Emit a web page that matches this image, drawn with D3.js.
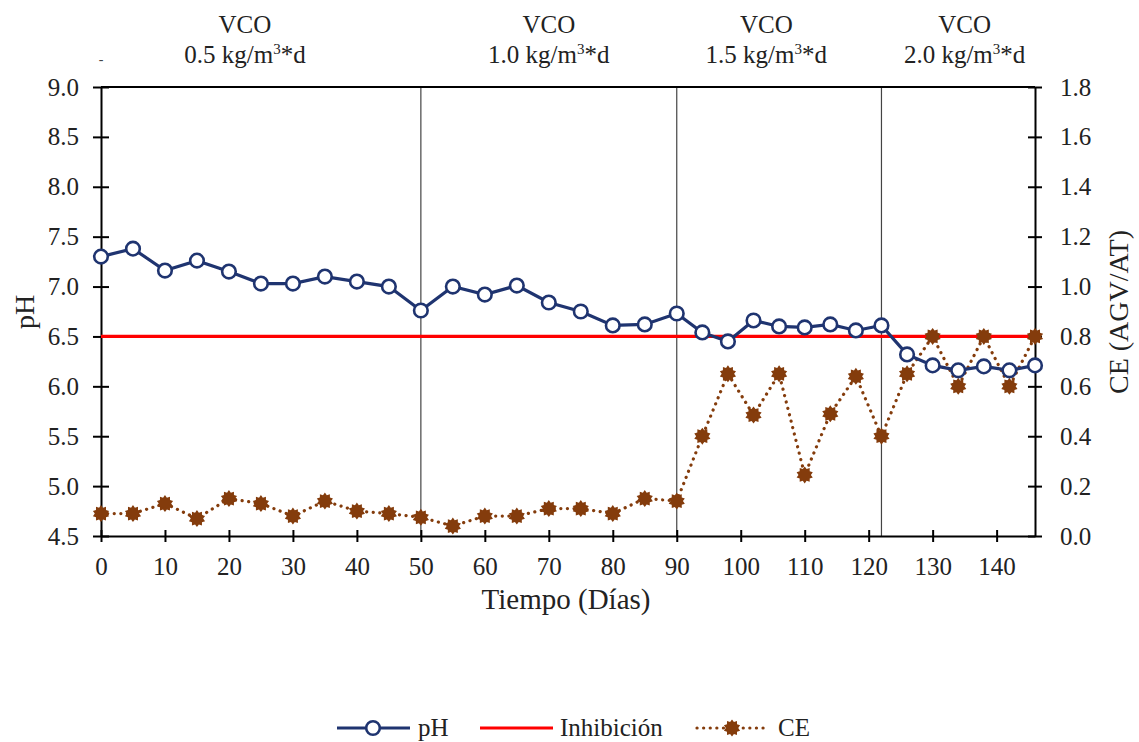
<!DOCTYPE html>
<html>
<head>
<meta charset="utf-8">
<script src="https://cdn.jsdelivr.net/npm/d3@7/dist/d3.min.js"></script>
<style>
  html, body { margin: 0; padding: 0; background: #fff; }
  svg { display: block; font-family: "Liberation Serif", "Times New Roman", serif; }
</style>
</head>
<body>
<svg id="chart" width="1139" height="742"></svg>
<script>
// Days of sampling
const dias = [0, 5, 10, 15, 20, 25, 30, 35, 40, 45, 50, 55, 60, 65, 70, 75, 80, 85, 90,
              94, 98, 102, 106, 110, 114, 118, 122, 126, 130, 134, 138, 142, 146];
// pH of the reactor
const ph = [7.30, 7.38, 7.16, 7.26, 7.15, 7.03, 7.03, 7.10, 7.05, 7.00, 6.76, 7.00, 6.92, 7.01, 6.84, 6.75, 6.61, 6.62, 6.73,
            6.54, 6.45, 6.66, 6.60, 6.59, 6.62, 6.56, 6.61, 6.32, 6.21, 6.16, 6.20, 6.16, 6.21];
// CE (AGV/AT) ratio
const ce = [0.09, 0.09, 0.13, 0.07, 0.15, 0.13, 0.08, 0.14, 0.10, 0.09, 0.075, 0.04, 0.08, 0.08, 0.11, 0.11, 0.09, 0.15, 0.14,
            0.40, 0.65, 0.485, 0.65, 0.245, 0.49, 0.64, 0.40, 0.65, 0.80, 0.60, 0.80, 0.60, 0.80];
// Inhibition threshold on pH
const inhibicion = 6.5;
// Organic loading phases: change days and labels
const cambiosFase = [50, 90, 122];
const fasesDia = [22.5, 70, 104, 135];
const fasesCarga = ["0.5", "1.0", "1.5", "2.0"];
// Tick labels
const phTicks = [4.5, 5.0, 5.5, 6.0, 6.5, 7.0, 7.5, 8.0, 8.5, 9.0];
const ceTicks = [0, 0.2, 0.4, 0.6, 0.8, 1.0, 1.2, 1.4, 1.6, 1.8];
const diaTicks = [0, 10, 20, 30, 40, 50, 60, 70, 80, 90, 100, 110, 120, 130, 140];

const svg = d3.select("#chart");
const L = 101, R = 1035, T = 87, B = 536;
const navy = "#1f3470", brown = "#843c0c", ink = "#222";
const serif = "Liberation Serif, Times New Roman, serif";

const x = d3.scaleLinear().domain([0, 146]).range([L, R]);
const yPh = d3.scaleLinear().domain([4.5, 9.0]).range([B, T]);
const yCe = d3.scaleLinear().domain([0, 1.8]).range([B, T]);

// Phase separators
svg.append("g").selectAll("line").data(cambiosFase).join("line")
  .attr("x1", d => x(d)).attr("x2", d => x(d))
  .attr("y1", T).attr("y2", B)
  .attr("stroke", "#444").attr("stroke-width", 1.2);

// Plot frame top
svg.append("line").attr("x1", L).attr("x2", R).attr("y1", T).attr("y2", T)
  .attr("stroke", "#000").attr("stroke-width", 2);

// Axes
function styleAxis(g, size) {
  g.select(".domain").attr("stroke", "#000").attr("stroke-width", 2);
  g.selectAll(".tick line").attr("stroke", "#000").attr("stroke-width", 2);
  g.selectAll(".tick text").attr("fill", ink).style("font-size", size + "px")
    .style("font-family", serif);
}

const gL = svg.append("g").attr("transform", `translate(${L},0)`)
  .call(d3.axisLeft(yPh).tickValues(phTicks).tickFormat(d3.format(".1f")).tickSizeOuter(0).tickPadding(16));
styleAxis(gL, 25);
gL.selectAll(".tick line").attr("x1", 8).attr("x2", -8);

const gR = svg.append("g").attr("transform", `translate(${R},0)`)
  .call(d3.axisRight(yCe).tickValues(ceTicks).tickFormat(d3.format(".1f")).tickSizeOuter(0).tickPadding(19));
styleAxis(gR, 25);
gR.selectAll(".tick line").attr("x1", -7).attr("x2", 7);

const gB = svg.append("g").attr("transform", `translate(0,${B})`)
  .call(d3.axisBottom(x).tickValues(diaTicks).tickFormat(d3.format("d")).tickSizeOuter(0).tickPadding(15));
styleAxis(gB, 25);
gB.selectAll(".tick line").attr("y1", -6).attr("y2", 6);

// Inhibition line
svg.append("line")
  .attr("x1", L).attr("x2", R)
  .attr("y1", yPh(inhibicion)).attr("y2", yPh(inhibicion))
  .attr("stroke", "#ff0000").attr("stroke-width", 3.2);

// Star (burst) marker path
function burst(r1, r2, n) {
  const pts = [];
  for (let i = 0; i < 2 * n; i++) {
    const r = i % 2 === 0 ? r1 : r2;
    const a = Math.PI * i / n - Math.PI / 2;
    pts.push([r * Math.cos(a), r * Math.sin(a)]);
  }
  return "M" + pts.map(p => p.join(",")).join("L") + "Z";
}
const starPath = burst(8.5, 6.2, 10);

// CE series (dotted)
const ceData = dias.map((d, i) => [d, ce[i]]);
svg.append("path").datum(ceData)
  .attr("d", d3.line().x(d => x(d[0])).y(d => yCe(d[1])))
  .attr("fill", "none").attr("stroke", brown).attr("stroke-width", 3.2)
  .attr("stroke-linecap", "round").attr("stroke-dasharray", "0.1,6.5");
svg.append("g").selectAll("path").data(ceData).join("path")
  .attr("d", starPath)
  .attr("transform", d => `translate(${x(d[0])},${yCe(d[1])})`)
  .attr("fill", brown);

// pH series
const phData = dias.map((d, i) => [d, ph[i]]);
svg.append("path").datum(phData)
  .attr("d", d3.line().x(d => x(d[0])).y(d => yPh(d[1])))
  .attr("fill", "none").attr("stroke", navy).attr("stroke-width", 3.2);
svg.append("g").selectAll("circle").data(phData).join("circle")
  .attr("cx", d => x(d[0])).attr("cy", d => yPh(d[1])).attr("r", 6.8)
  .attr("fill", "#fff").attr("stroke", navy).attr("stroke-width", 2.6);

// Phase labels
const fases = svg.append("g").attr("fill", ink).attr("text-anchor", "middle").style("font-size", "25px");
fasesDia.forEach((d, i) => {
  fases.append("text").attr("x", x(d)).attr("y", 33).text("VCO");
  const t = fases.append("text").attr("x", x(d)).attr("y", 63);
  t.append("tspan").text(fasesCarga[i] + " kg/m");
  t.append("tspan").attr("dy", -9).style("font-size", "15px").text("3");
  t.append("tspan").attr("dy", 9).text("*d");
});
svg.append("text").attr("x", 101).attr("y", 64).attr("text-anchor", "middle")
  .style("font-size", "14px").attr("fill", "#444").text("-");

// Axis titles
svg.append("text").attr("transform", "translate(34,312) rotate(-90)")
  .attr("text-anchor", "middle").style("font-size", "28px").attr("fill", ink).text("pH");
svg.append("text").attr("transform", "translate(1128,312) rotate(-90)")
  .attr("text-anchor", "middle").style("font-size", "28px").attr("fill", ink).text("CE (AGV/AT)");
svg.append("text").attr("x", 566).attr("y", 609)
  .attr("text-anchor", "middle").style("font-size", "29px").attr("fill", ink).text("Tiempo (Días)");

// Legend
const ly = 728;
const lg = svg.append("g").style("font-size", "25px").attr("fill", ink);
lg.append("line").attr("x1", 337).attr("x2", 410).attr("y1", ly).attr("y2", ly)
  .attr("stroke", navy).attr("stroke-width", 3.2);
lg.append("circle").attr("cx", 373).attr("cy", ly).attr("r", 6.8)
  .attr("fill", "#fff").attr("stroke", navy).attr("stroke-width", 2.6);
lg.append("text").attr("x", 418).attr("y", ly + 8).text("pH");
lg.append("line").attr("x1", 480).attr("x2", 553).attr("y1", ly).attr("y2", ly)
  .attr("stroke", "#ff0000").attr("stroke-width", 3.2);
lg.append("text").attr("x", 560).attr("y", ly + 8).text("Inhibición");
lg.append("line").attr("x1", 697).attr("x2", 766).attr("y1", ly).attr("y2", ly)
  .attr("stroke", brown).attr("stroke-width", 3.2).attr("stroke-linecap", "round").attr("stroke-dasharray", "0.1,6.5");
lg.append("path").attr("d", starPath).attr("transform", `translate(732,${ly})`).attr("fill", brown);
lg.append("text").attr("x", 778).attr("y", ly + 8).text("CE");
</script>
</body>
</html>
